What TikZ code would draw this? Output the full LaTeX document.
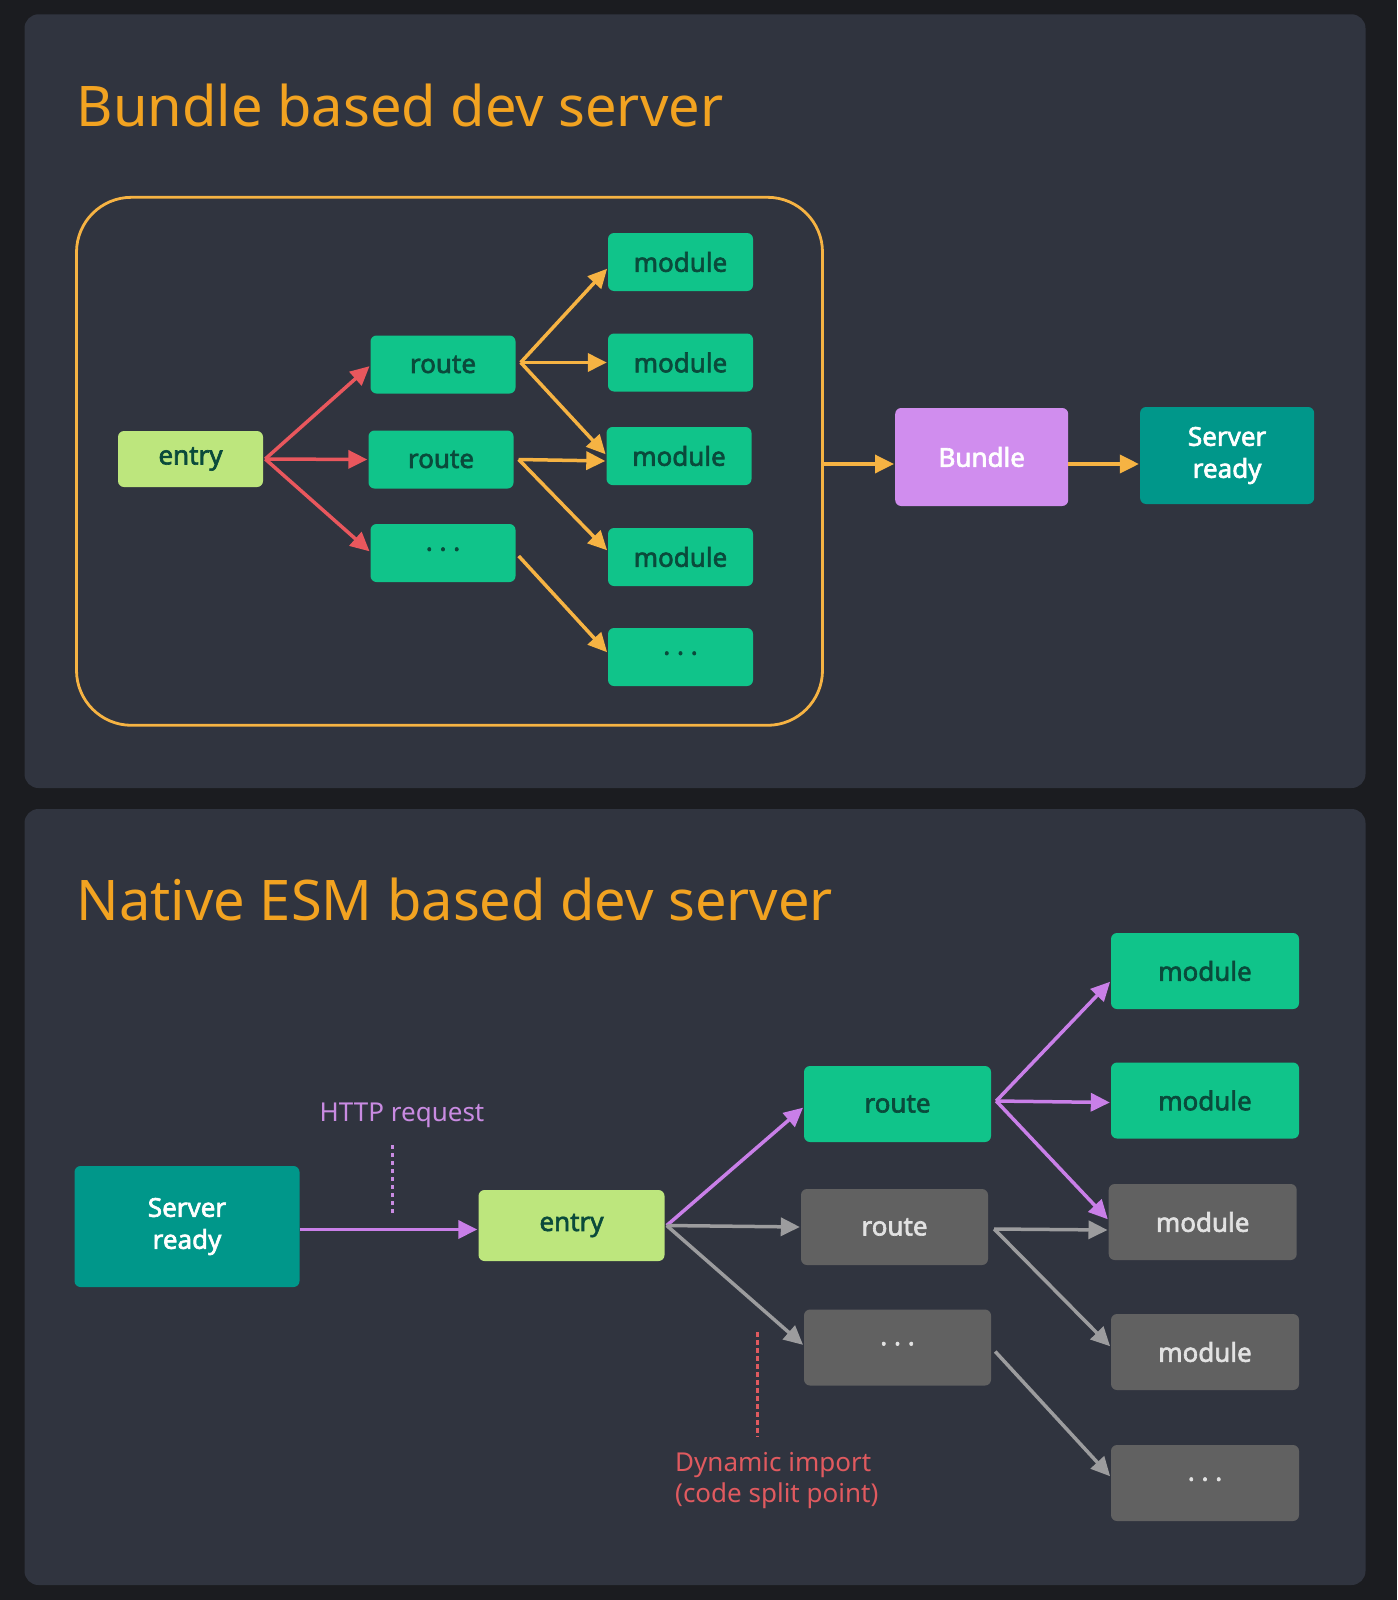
\documentclass[tikz,border=0pt]{standalone}
\usepackage{fontspec}
\setmainfont{Noto Sans}
\newfontfamily\boxfont{Noto Sans}[FakeBold=2.4]
\usepackage{xcolor}
\definecolor{pagebg}{HTML}{1B1C20}
\definecolor{panel}{HTML}{30343F}
\definecolor{accent}{HTML}{F2A321}
\definecolor{arrorange}{HTML}{F6B343}
\definecolor{arrred}{HTML}{E9575D}
\definecolor{entrygreen}{HTML}{BDE67D}
\definecolor{modgreen}{HTML}{10C48A}
\definecolor{modtext}{HTML}{0A4A3B}
\definecolor{bundlepurple}{HTML}{D08DEE}
\definecolor{srvteal}{HTML}{00978A}
\definecolor{graybox}{HTML}{616161}
\definecolor{graytext}{HTML}{E2E2E2}
\definecolor{arrgray}{HTML}{9C9C9E}
\definecolor{arrpurple}{HTML}{C97FE8}
\definecolor{lblpurple}{HTML}{C98BE2}
\definecolor{lblred}{HTML}{E05A5F}
\usepackage{tikz}
\usetikzlibrary{arrows.meta,positioning}

\begin{document}
\begin{tikzpicture}[
  x=1pt,y=-1pt,
  box/.style={rectangle,rounded corners=6pt,inner sep=0pt,align=center,
    font=\boxfont\fontsize{26}{32}\selectfont},
  grnbox/.style={box,fill=modgreen,text=modtext},
  entbox/.style={box,fill=entrygreen,text=modtext},
  grybox/.style={box,fill=graybox,text=graytext},
  srvbox/.style={box,fill=srvteal,text=white},
  bndbox/.style={box,fill=bundlepurple,text=white},
  small/.style={minimum width=145pt,minimum height=58pt},
  large/.style={minimum width=187pt,minimum height=76pt},
  title/.style={anchor=base west,inner sep=0pt,text=accent,
    font=\fontsize{56}{66}\selectfont},
  lbl/.style={inner sep=0pt,font=\fontsize{26}{31}\selectfont},
  arr/.style={-{Triangle[length=19pt,width=18pt]},line width=3.5pt,shorten >=1pt},
  oarr/.style={arr,color=arrorange},
  rarr/.style={arr,color=arrred},
  parr/.style={arr,color=arrpurple},
  garr/.style={arr,color=arrgray}
]
  % page and panels
  \fill[pagebg] (0,0) rectangle (1397,1600);
  \fill[panel,rounded corners=14pt] (24.5,14.3) rectangle (1365.5,788);
  \fill[panel,rounded corners=14pt] (24.5,809) rectangle (1365.5,1585);

  % bundle based
  \node[title] (t1) at (76.5,127) {Bundle based dev server};
  \node[draw=arrorange,line width=2.8pt,rounded corners=55pt,
    minimum width=746pt,minimum height=528pt] (fr) at (449.5,461.3) {};

  \node[entbox,small,minimum height=56pt] (e1) at (190.5,459) {entry};
  \node[grnbox,small] (r1) at (443,364.5) {route};
  \node[grnbox,small] (r2) at (441,459.5) {route};
  \node[grnbox,small] (r3) at (443,553) {· · ·};
  \node[grnbox,small] (m1) at (680.5,262) {module};
  \node[grnbox,small] (m2) at (680.5,362.5) {module};
  \node[grnbox,small] (m3) at (679,456) {module};
  \node[grnbox,small] (m4) at (680.5,557) {module};
  \node[grnbox,small] (m5) at (680.5,657) {· · ·};
  \node[bndbox,minimum width=173pt,minimum height=98pt] (bd) at (981.7,457) {Bundle};
  \node[srvbox,minimum width=174pt,minimum height=97pt,right=71.5pt of bd,
    yshift=1.5pt] (sr1) {Server\\ready};

  \coordinate (e1o) at ([xshift=2pt]e1.east);
  \draw[rarr] (e1o) -- ([yshift=-1pt]r1.west);
  \draw[rarr] (e1o) -- (r2.west);
  \draw[rarr] (e1o) -- ([yshift=1pt]r3.west);

  \coordinate (r1o) at ([xshift=5pt,yshift=2pt]r1.east);
  \draw[oarr] (r1o) -- ([yshift=-6pt]m1.west);
  \draw[oarr] (r1o) -- (m2.west);
  \draw[oarr] (r1o) -- ([yshift=1pt]m3.west);
  \coordinate (r2o) at ([xshift=5pt]r2.east);
  \draw[oarr] (r2o) -- ([yshift=-5pt]m3.west);
  \draw[oarr] (r2o) -- ([yshift=6pt]m4.west);
  \draw[oarr] ([xshift=3pt,yshift=-3pt]r3.east) -- ([yshift=4pt]m5.west);

  \coordinate (lvl) at (0,464);
  \draw[oarr] (fr.east |- lvl) -- (bd.west |- lvl);
  \draw[oarr] (bd.east |- lvl) -- (sr1.west |- lvl);

  % native esm based
  \node[title] (t2) at (76.5,920) {Native ESM based dev server};

  \node[srvbox,minimum width=225pt,minimum height=121pt] (sr2) at (187,1226.5) {Server\\ready};
  \node[entbox,minimum width=186pt,minimum height=71pt] (e2) at (571.5,1225.5) {entry};
  \node[grnbox,large] (rg) at (897.5,1104) {route};
  \node[grybox,large] (rq) at (894.5,1227) {route};
  \node[grybox,large] (dq) at (897.5,1347.5) {· · ·};
  \node[grnbox,large,minimum width=188pt] (n1) at (1205,971) {module};
  \node[grnbox,large,minimum width=188pt] (n2) at (1205,1100.5) {module};
  \node[grybox,large,minimum width=188pt] (n3) at (1202.7,1222) {module};
  \node[grybox,large,minimum width=188pt] (n4) at (1205,1352) {module};
  \node[grybox,large,minimum width=188pt] (n5) at (1205,1483) {· · ·};

  \node[lbl,text=lblpurple] (http) at (402,1115.5) {HTTP request};
  \coordinate (h1) at (392,1145);
  \coordinate (h2) at (392,1214);
  \draw[lblpurple,line width=3pt,dash pattern=on 4pt off 4pt] (h1) -- (h2);

  \node[lbl,text=lblred,align=left,anchor=north west] (dyn) at (675,1452)
    {Dynamic import\\(code split point)};
  \coordinate (d1) at (757,1332);
  \coordinate (d2) at (757,1437);
  \draw[lblred,line width=3pt,dash pattern=on 5pt off 3pt] (d1) -- (d2);

  \draw[parr] ([yshift=-3pt]sr2.east) -- ([yshift=-3pt]sr2.east -| e2.west);

  \coordinate (e2o) at ([xshift=2pt]e2.east);
  \draw[parr] (e2o) -- ([yshift=-3pt]rg.west);
  \draw[garr] (e2o) -- (rq.west);
  \draw[garr] (e2o) -- ([yshift=2pt]dq.west);

  \coordinate (rgo) at ([xshift=5pt,yshift=3pt]rg.east);
  \draw[parr] (rgo) -- ([yshift=-10pt]n1.west);
  \draw[parr] (rgo) -- ([yshift=-2pt]n2.west);
  \draw[parr] (rgo) -- ([yshift=2pt]n3.west);
  \coordinate (rqo) at ([xshift=6pt,yshift=-2pt]rq.east);
  \draw[garr] (rqo) -- ([yshift=-8pt]n3.west);
  \draw[garr] (rqo) -- ([yshift=5pt]n4.west);
  \draw[garr] ([xshift=4pt,yshift=-4pt]dq.east) -- ([yshift=6pt]n5.west);
\end{tikzpicture}
\end{document}
